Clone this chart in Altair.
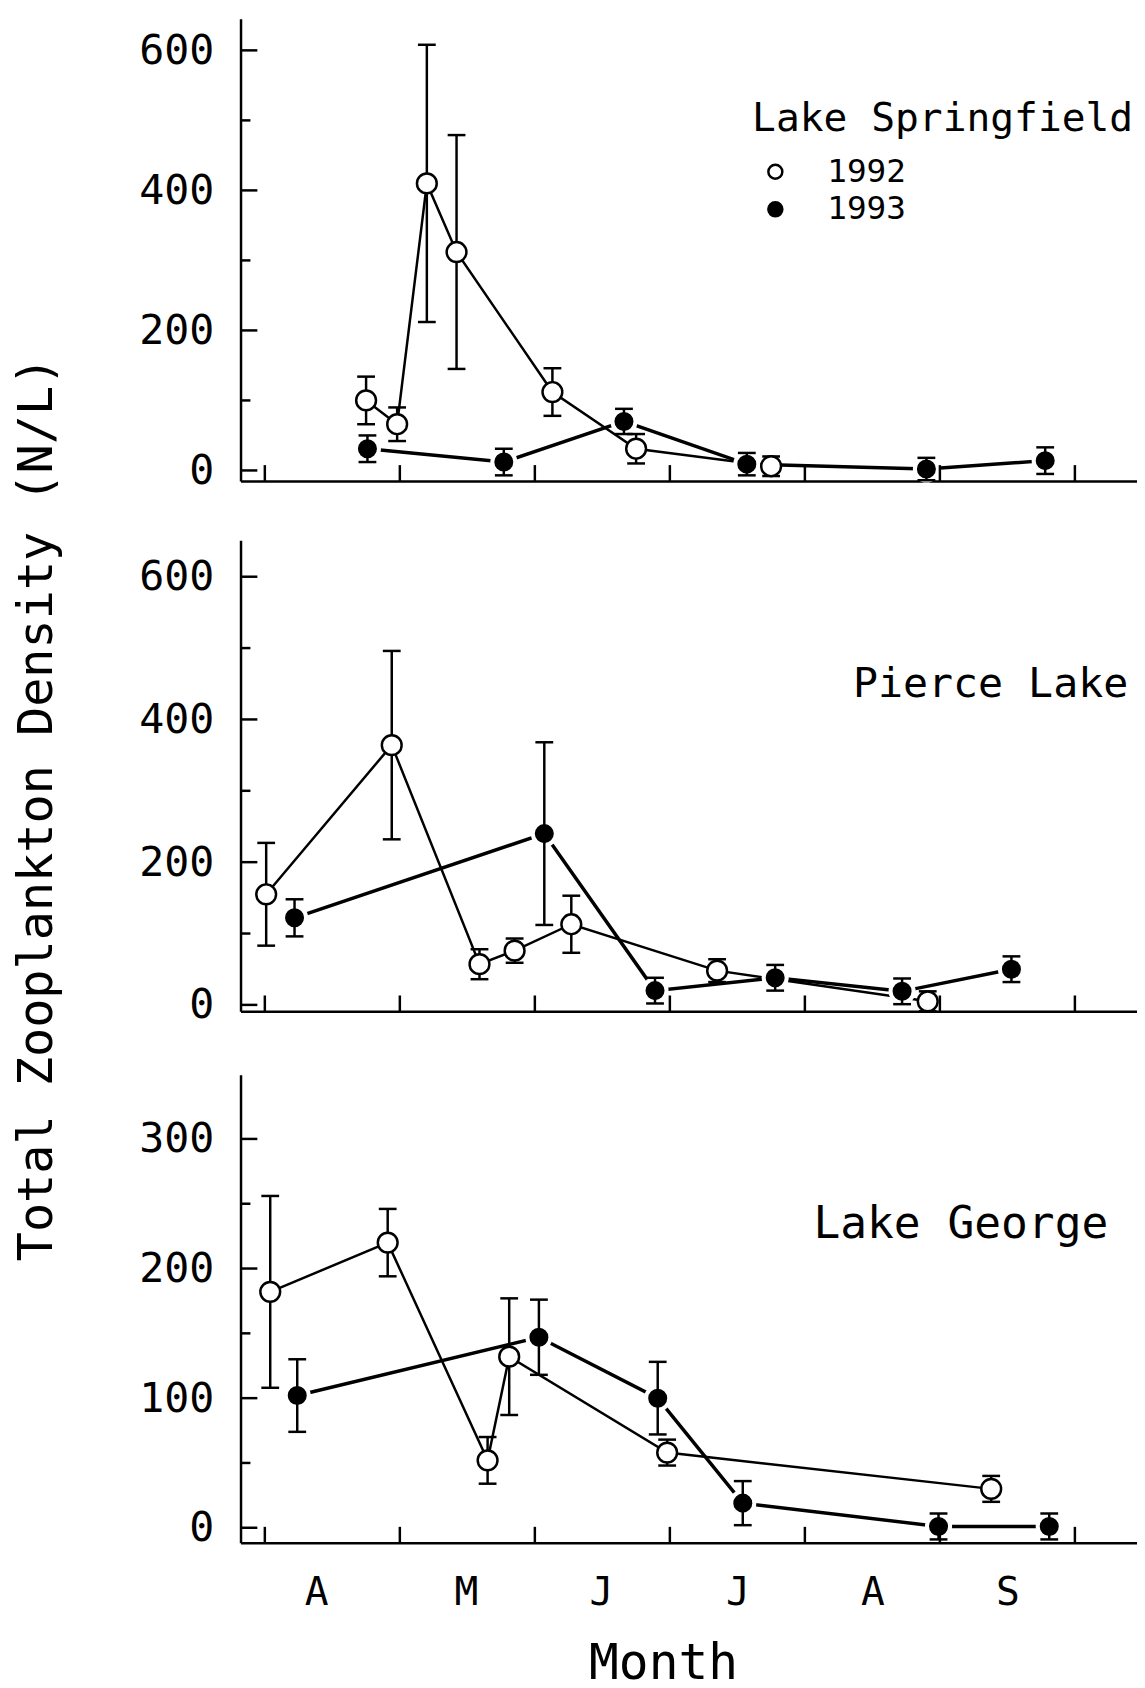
import altair as alt
import pandas as pd

FONT = "DejaVu Sans Mono"

# ---- month axis (month number: 4 = 1 April, 5 = 1 May, ...) ----
month_ticks = [4, 5, 6, 7, 8, 9, 10]
month_label_pos = [4.38, 5.49, 6.49, 7.5, 8.5, 9.5]
month_letters = ["A", "M", "J", "J", "A", "S"]

lake_names = ["Lake Springfield", "Pierce Lake", "Lake George"]
years = ["1992", "1993"]

# ---- Lake Springfield ----
spr92_month = [4.75, 4.98, 5.20, 5.42, 6.13, 6.75, 7.75]
spr92_mean = [100, 66, 410, 312, 112, 31, 6]
spr92_err = [34, 24, 198, 167, 34, 21, 14]
spr93_month = [4.76, 5.77, 6.66, 7.57, 8.90, 9.78]
spr93_mean = [31, 12, 70, 9, 2, 14]
spr93_err = [19, 19, 18, 16, 16, 19]

# ---- Pierce Lake ----
pie92_month = [4.01, 4.94, 5.59, 5.85, 6.27, 7.35, 8.91]
pie92_mean = [155, 364, 57, 76, 113, 48, 5]
pie92_err = [72, 132, 21, 17, 40, 16, 14]
pie93_month = [4.22, 6.07, 6.89, 7.78, 8.72, 9.53]
pie93_mean = [122, 240, 20, 38, 19, 50]
pie93_err = [26, 128, 18, 18, 18, 18]

# ---- Lake George ----
geo92_month = [4.04, 4.91, 5.65, 5.81, 6.98, 9.38]
geo92_mean = [182, 220, 52, 132, 58, 30]
geo92_err = [74, 26, 18, 45, 10, 10]
geo93_month = [4.24, 6.03, 6.91, 7.54, 8.99, 9.81]
geo93_mean = [102, 147, 100, 19, 1, 1]
geo93_err = [28, 29, 28, 17, 10, 10]

# ---- y axis ticks ----
big_major = [0, 200, 400, 600]
big_minor = [100, 300, 500]
small_major = [0, 100, 200, 300]
small_minor = [50, 150, 250]

X_DOMAIN = [3.82, 10.46]
PLOT_W = 906


def make_df(months, means, errs, year):
    return pd.DataFrame({
        "month": months,
        "density": means,
        "lo": [m - e for m, e in zip(means, errs)],
        "hi": [m + e for m, e in zip(means, errs)],
        "year": year,
    })


label_expr = "{}[indexof({}, datum.value)]".format(
    "[" + ",".join("'%s'" % s for s in month_letters) + "]",
    "[" + ",".join(str(v) for v in month_label_pos) + "]",
)

LEGEND = alt.Legend(
    orient="none", legendX=524, legendY=138, title=None,
    labelFont=FONT, labelFontSize=33, labelColor="black",
    symbolType="circle", symbolSize=200, symbolStrokeColor="black",
    symbolStrokeWidth=2.5, labelOffset=36, rowPadding=4, padding=0,
)
FILL = alt.Fill("year:N", scale=alt.Scale(domain=years, range=["white", "black"]), legend=LEGEND)


def panel(name, d92, d93, y_domain, height, major, minor, bottom, name_x, name_y, name_size):
    df = pd.concat([d92, d93], ignore_index=True)
    xs = alt.Scale(domain=X_DOMAIN, nice=False, zero=False)
    ys = alt.Scale(domain=y_domain, nice=False, zero=False)
    if bottom:
        xaxis = alt.Axis(values=month_label_pos, labelExpr=label_expr, ticks=False, tickSize=0,
                         grid=False, domainColor="black", domainWidth=2.5,
                         labelFont=FONT, labelFontSize=40, labelColor="black", labelPadding=30,
                         labelFlush=False, labelOverlap=False,
                         title="Month", titleFont=FONT, titleFontSize=50, titleFontWeight="normal",
                         titleColor="black", titlePadding=27, titleX=427, titleAlign="center")
    else:
        xaxis = alt.Axis(labels=False, ticks=False, tickSize=0, grid=False,
                         domainColor="black", domainWidth=2.5, title=None)
    yaxis = alt.Axis(values=major, ticks=False, tickSize=0, grid=False,
                     domainColor="black", domainWidth=2.5,
                     labelFont=FONT, labelFontSize=42, labelColor="black", labelPadding=27,
                     labelFlush=False, labelOverlap=False, title=None)

    def X(f):
        return alt.X(f, type="quantitative", scale=xs, axis=xaxis)

    def Y(f):
        return alt.Y(f, type="quantitative", scale=ys, axis=yaxis)

    base = alt.Chart(df)
    f92 = "datum.year == '1992'"
    f93 = "datum.year == '1993'"

    line92 = base.transform_filter(f92).mark_line(color="black", strokeWidth=2.5).encode(
        x=X("month"), y=Y("density"), order="month:Q")
    line93 = base.transform_filter(f93).mark_line(color="black", strokeWidth=3.5).encode(
        x=X("month"), y=Y("density"), order="month:Q")
    halo = base.transform_filter(f93).mark_point(
        shape="circle", filled=True, color="white", size=750, opacity=1).encode(
        x=X("month"), y=Y("density"))
    err = base.mark_rule(color="black", strokeWidth=2.5).encode(
        x=X("month"), y=Y("lo"), y2="hi")
    caps = base.transform_fold(["lo", "hi"], as_=["end", "cap"]).mark_point(
        shape="M-1,0L1,0", size=324, stroke="black", strokeWidth=2.5,
        filled=False, opacity=1).encode(x=X("month"), y=Y("cap"))
    open_pts = base.transform_filter(f92).mark_point(
        shape="circle", filled=True, stroke="black", strokeWidth=2.5, size=400, opacity=1).encode(
        x=X("month"), y=Y("density"), fill=FILL)
    full_pts = base.transform_filter(f93).mark_point(
        shape="circle", filled=True, stroke="black", strokeWidth=2.5, size=280, opacity=1).encode(
        x=X("month"), y=Y("density"), fill=FILL)

    ymaj = alt.Chart(pd.DataFrame({"t": major})).mark_rule(color="black", strokeWidth=2.5).encode(
        y=Y("t"), x=alt.value(0), x2=alt.value(17))
    ymin = alt.Chart(pd.DataFrame({"t": minor})).mark_rule(color="black", strokeWidth=2.5).encode(
        y=Y("t"), x=alt.value(0), x2=alt.value(10))
    xtk = alt.Chart(pd.DataFrame({"t": month_ticks})).mark_rule(color="black", strokeWidth=2.5).encode(
        x=X("t"), y=alt.value(height), y2=alt.value(height - 16))
    label = alt.Chart(pd.DataFrame({"name": [name]})).mark_text(
        font=FONT, fontSize=name_size, align="left", baseline="alphabetic", color="black").encode(
        text="name:N", x=alt.value(name_x), y=alt.value(name_y))

    return alt.layer(line92, line93, halo, err, caps, open_pts, full_pts,
                     ymaj, ymin, xtk, label).properties(width=PLOT_W, height=height)


p1 = panel(lake_names[0],
           make_df(spr92_month, spr92_mean, spr92_err, "1992"),
           make_df(spr93_month, spr93_mean, spr93_err, "1993"),
           [-15, 645], 467, big_major, big_minor, False, 517, 113, 40)
p2 = panel(lake_names[1],
           make_df(pie92_month, pie92_mean, pie92_err, "1992"),
           make_df(pie93_month, pie93_mean, pie93_err, "1993"),
           [-9, 651], 476, big_major, big_minor, False, 619, 158, 42)
p3 = panel(lake_names[2],
           make_df(geo92_month, geo92_mean, geo92_err, "1992"),
           make_df(geo93_month, geo93_mean, geo93_err, "1993"),
           [-11.5, 349.6], 473, small_major, small_minor, True, 579, 165, 45)

chart = alt.vconcat(p1, p2, p3, spacing=49).properties(
    title=alt.TitleParams("Total Zooplankton Density (N/L)", orient="left", anchor="middle",
                          font=FONT, fontSize=49, fontWeight="normal", color="black",
                          offset=78, dx=45),
    padding={"left": 5, "top": 2, "right": 0, "bottom": 0},
    background="white",
).configure_view(stroke=None)

chart.save("out.html", embed_options={"renderer": "svg", "actions": False})
